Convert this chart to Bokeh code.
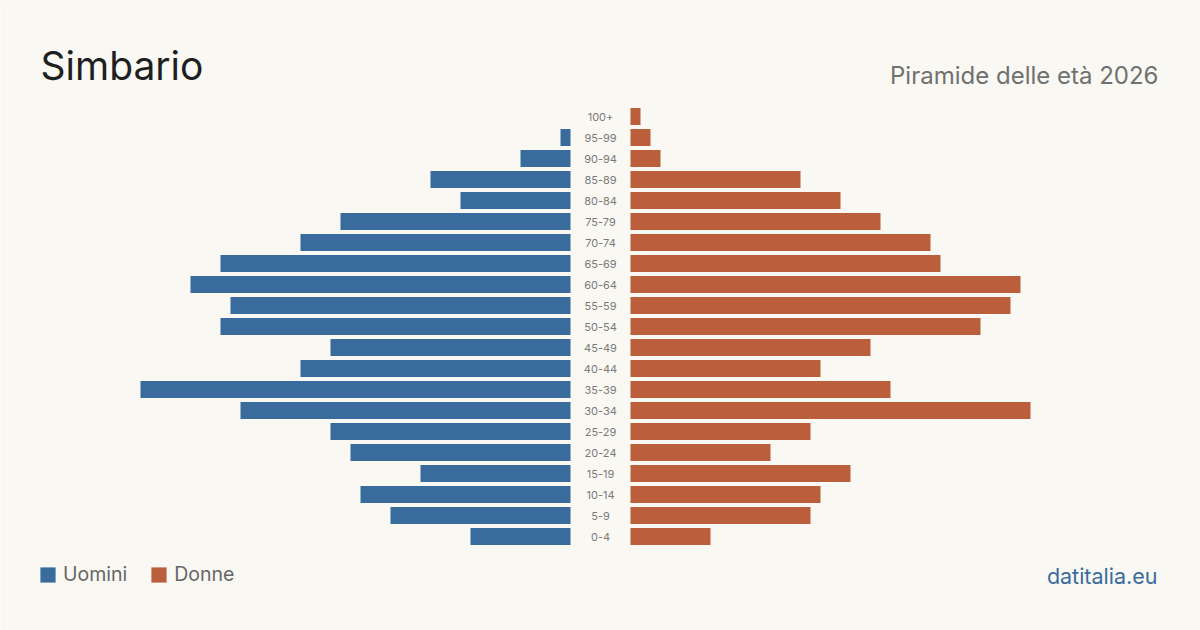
from bokeh.plotting import figure
from bokeh.models import ColumnDataSource, Label, Legend, LegendItem, Range1d
from bokeh.core.properties import value
from bokeh.embed import file_html
from bokeh.resources import INLINE

# Age classes, youngest first
age_groups = ["0-4", "5-9", "10-14", "15-19", "20-24", "25-29", "30-34", "35-39",
              "40-44", "45-49", "50-54", "55-59", "60-64", "65-69", "70-74", "75-79",
              "80-84", "85-89", "90-94", "95-99", "100+"]
men = [10, 18, 21, 15, 22, 24, 33, 43, 27, 24, 35, 34, 38, 35, 27, 23, 11, 14, 5, 1, 0]
women = [8, 18, 19, 22, 14, 18, 40, 26, 19, 24, 35, 38, 39, 31, 30, 25, 21, 17, 3, 2, 1]

BG = "#f9f8f3"
BLUE = "#3a6b9d"
ORANGE = "#ba5e3c"
FONT = "Inter"
GAP = 3  # half-width of the central label column, in data units

W, H = 1200, 630
idx = list(range(len(age_groups)))
src = ColumnDataSource(dict(
    y=idx,
    age=age_groups,
    m_left=[-GAP - v for v in men],
    m_right=[-GAP] * len(men),
    w_left=[GAP] * len(women),
    w_right=[GAP + v for v in women],
    zero=[0] * len(idx),
))

# 10 px per unit horizontally, 21 px per row vertically
y_top = 536 / 21
p = figure(width=W, height=H, output_backend="svg", toolbar_location=None,
           x_range=Range1d(-60, 60), y_range=Range1d(y_top - H / 21, y_top),
           x_axis_location=None, y_axis_location=None, min_border=0)
p.background_fill_color = BG
p.border_fill_color = BG
p.outline_line_color = None
p.xgrid.visible = False
p.ygrid.visible = False

bh = 17 / 21
r_m = p.hbar(y="y", left="m_left", right="m_right", height=bh, source=src,
             fill_color=BLUE, line_color=None)
r_w = p.hbar(y="y", left="w_left", right="w_right", height=bh, source=src,
             fill_color=ORANGE, line_color=None)

p.text(x="zero", y="y", text="age", source=src, text_align="center",
       text_baseline="middle", text_font=value(FONT), text_font_size="11px",
       text_color="#7a7a7a")

p.add_layout(Label(x=40, y=H - 65, x_units="screen", y_units="screen",
                   text="Simbario", text_font=FONT, text_font_size="39px",
                   text_color="#1f1f1f", text_baseline="alphabetic"))
p.add_layout(Label(x=1158, y=H - 75, x_units="screen", y_units="screen",
                   text="Piramide delle età 2026", text_font=FONT,
                   text_font_size="24px", text_color="#707070",
                   text_align="right", text_baseline="alphabetic"))
p.add_layout(Label(x=1157, y=H - 575, x_units="screen", y_units="screen",
                   text="datitalia.eu", text_font=FONT, text_font_size="21.5px",
                   text_color=BLUE, text_align="right", text_baseline="alphabetic"))

legend = Legend(items=[LegendItem(label="Uomini", renderers=[r_m]),
                       LegendItem(label="Donne", renderers=[r_w])],
                location=(38, 44), orientation="horizontal",
                glyph_width=19, glyph_height=19, label_standoff=6, spacing=22,
                padding=0, margin=0, label_text_font=FONT,
                label_text_font_size="19.5px", label_text_color="#666666",
                background_fill_alpha=0, border_line_color=None)
p.add_layout(legend)

open("out.html", "w").write(file_html(p, INLINE))
